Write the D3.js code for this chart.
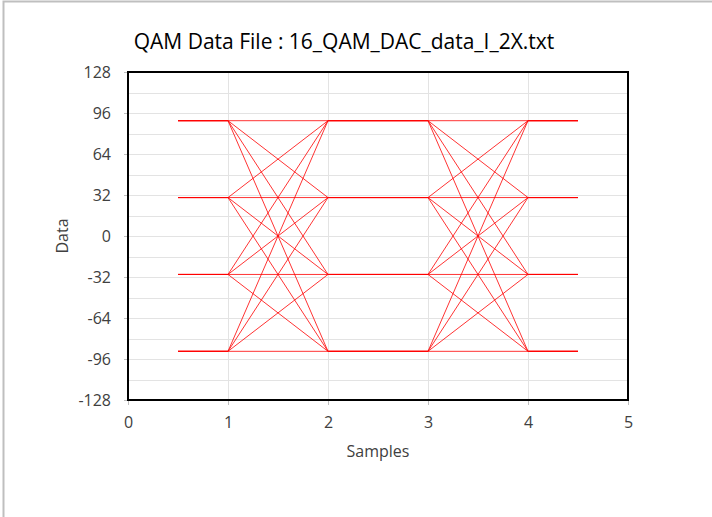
<!DOCTYPE html>
<html>
<head>
<meta charset="utf-8">
<style>
body { margin: 0; background: #fff; }
svg text { font-family: "Open Sans", sans-serif; fill: #404040; }
.grid line { stroke: #e3e3e3; shape-rendering: crispEdges; }
.axis path { display: none; }
.axis line { stroke: #bfbfbf; }
.axis text { font-size: 16px; fill: #404040; }
.trace { fill: none; stroke: #ff0000; stroke-width: 1; stroke-opacity: 0.8; }
</style>
</head>
<body>
<svg id="chart" width="712" height="517"></svg>
<script src="https://d3js.org/d3.v7.min.js"></script>
<script>
// sample positions and the traced symbol values (I channel, 2x oversampled)
var samplePos = [0.5, 1, 2, 3, 4, 4.5];
var traces = [
  [ 90,  90,  90,  90,  90,  90],
  [ 30,  30,  90,  90,  30,  30],
  [-30, -30,  90,  90, -30, -30],
  [-90, -90,  90,  90, -90, -90],
  [ 90,  90,  30,  30,  90,  90],
  [ 30,  30,  30,  30,  30,  30],
  [-30, -30,  30,  30, -30, -30],
  [-90, -90,  30,  30, -90, -90],
  [ 90,  90, -30, -30,  90,  90],
  [ 30,  30, -30, -30,  30,  30],
  [-30, -30, -30, -30, -30, -30],
  [-90, -90, -30, -30, -90, -90],
  [ 90,  90, -90, -90,  90,  90],
  [ 30,  30, -90, -90,  30,  30],
  [-30, -30, -90, -90, -30, -30],
  [-90, -90, -90, -90, -90, -90]
];
var yTicks = [-128, -96, -64, -32, 0, 32, 64, 96, 128];
var yGrid = d3.range(-128, 129, 16);
var xTicks = [0, 1, 2, 3, 4, 5];
var titleText = "QAM Data File : 16_QAM_DAC_data_I_2X.txt";

var svg = d3.select("#chart");

// outer chart frame
svg.append("rect")
  .attr("x", 3.5).attr("y", 1.5)
  .attr("width", 720).attr("height", 530)
  .attr("fill", "#fff")
  .attr("stroke", "#bfbfbf")
  .attr("stroke-width", 2);

var margin = {top: 72, left: 128, right: 84, bottom: 117};
var width = 712 - margin.left - margin.right,
    height = 517 - margin.top - margin.bottom;

var g = svg.append("g")
  .attr("transform", "translate(" + margin.left + "," + margin.top + ")");

var x = d3.scaleLinear().domain([0, 5]).range([0, width]);
var y = d3.scaleLinear().domain([-128, 128]).range([height, 0]);

// gridlines
g.append("g").attr("class", "grid")
  .selectAll("line").data(yGrid).enter().append("line")
    .attr("x1", 0).attr("x2", width)
    .attr("y1", function(d) { return Math.round(y(d)) + 0.5; })
    .attr("y2", function(d) { return Math.round(y(d)) + 0.5; });
g.append("g").attr("class", "grid")
  .selectAll("line").data(xTicks).enter().append("line")
    .attr("y1", 0).attr("y2", height)
    .attr("x1", function(d) { return Math.round(x(d)) + 0.5; })
    .attr("x2", function(d) { return Math.round(x(d)) + 0.5; });

// axes (plain hyphen minus like the original)
var fmt = function(d) { return String(d); };
g.append("g").attr("class", "axis")
  .call(d3.axisLeft(y).tickValues(yTicks).tickFormat(fmt).tickSize(4).tickPadding(13));
g.append("g").attr("class", "axis")
  .attr("transform", "translate(0," + height + ")")
  .call(d3.axisBottom(x).tickValues(xTicks).tickFormat(fmt).tickSize(5).tickPadding(12));

// traces
var line = d3.line()
  .x(function(d, i) { return x(samplePos[i]); })
  .y(function(d) { return y(d); });
g.append("g")
  .selectAll("path").data(traces).enter().append("path")
    .attr("class", "trace")
    .attr("d", line);

// plot border
g.append("rect")
  .attr("width", width).attr("height", height)
  .attr("fill", "none")
  .attr("stroke", "#000")
  .attr("stroke-width", 2);

// title and axis labels
svg.append("text")
  .attr("x", 344).attr("y", 49)
  .attr("text-anchor", "middle")
  .style("font-size", "21px")
  .style("fill", "#000")
  .text(titleText);

svg.append("text")
  .attr("x", 378).attr("y", 457)
  .attr("text-anchor", "middle")
  .style("font-size", "16px")
  .text("Samples");

svg.append("text")
  .attr("transform", "translate(68,236) rotate(-90)")
  .attr("text-anchor", "middle")
  .style("font-size", "16px")
  .text("Data");
</script>
</body>
</html>
